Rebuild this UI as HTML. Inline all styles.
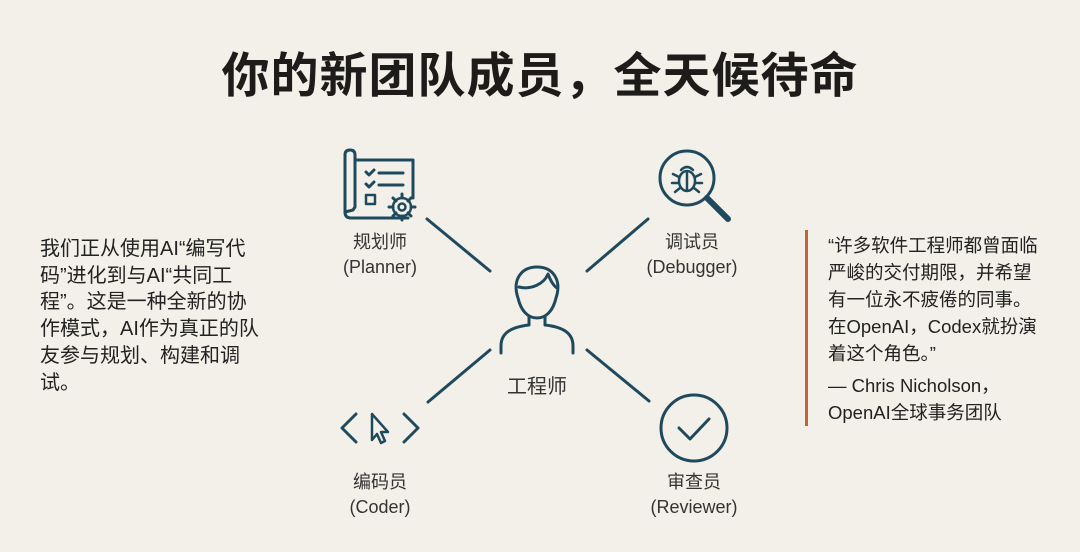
<!DOCTYPE html>
<html><head><meta charset="utf-8"><style>
body{margin:0;width:1080px;height:552px;background:#f3f0e9;overflow:hidden;position:relative;font-family:"Liberation Sans","Noto Sans CJK SC",sans-serif;color:#2b2b2b}
.t{position:absolute;white-space:nowrap}
.title{left:0;width:1080px;text-align:center;top:47px;font-size:48px;font-weight:bold;color:#1e1c1a;line-height:60px;letter-spacing:1px}
.left{left:40px;top:236px;font-size:20px;line-height:26.7px;color:#222}
.quote{left:828px;top:232px;font-size:18.5px;line-height:27px;color:#222}
.lab{font-size:18px;line-height:25px;text-align:center;color:#333;width:160px}
</style></head><body>
<div class="t title">你的新团队成员，全天候待命</div>
<div class="t left">我们正从使用AI“编写代<br>码”进化到与AI“共同工<br>程”。这是一种全新的协<br>作模式，AI作为真正的队<br>友参与规划、构建和调<br>试。</div>
<div style="position:absolute;left:805px;top:230px;width:3px;height:196px;background:#c0643c"></div>
<div class="t quote">“许多软件工程师都曾面临<br>严峻的交付期限，并希望<br>有一位永不疲倦的同事。<br>在OpenAI，Codex就扮演<br>着这个角色。”<br><div style="height:5px"></div>— Chris Nicholson，<br>OpenAI全球事务团队</div>

<div class="t lab" style="left:300px;top:230px">规划师<br>(Planner)</div>
<div class="t lab" style="left:612px;top:230px">调试员<br>(Debugger)</div>
<div class="t lab" style="left:300px;top:470px">编码员<br>(Coder)</div>
<div class="t lab" style="left:614px;top:470px">审查员<br>(Reviewer)</div>
<div class="t" style="left:457px;width:160px;text-align:center;top:370px;font-size:20px;color:#333">工程师</div>

<svg width="1080" height="552" style="position:absolute;left:0;top:0" fill="none" stroke="#1f4a5e" stroke-width="3" stroke-linecap="round" stroke-linejoin="round">
<line x1="427" y1="219" x2="490" y2="271"/>
<line x1="648" y1="219" x2="587" y2="271"/>
<line x1="490" y1="350" x2="428" y2="402"/>
<line x1="587" y1="350" x2="649" y2="401"/>
<!-- person -->
<path d="M518 298 C512 280 521 267 537 267 C553 267 562 280 556 298 C553 311 546 318 537 318 C528 318 521 311 518 298 Z"/>
<path d="M519 287 C531 290 544 284 548 274 C551 282 554 286 557 288"/>
<path d="M529 317 L529 325 C511 327 501 333 501 346 L501 353"/>
<path d="M545 317 L545 325 C563 327 573 333 573 346 L573 353"/>
<!-- planner -->
<path d="M345 155 L345 212 Q345 218 351 218 L408 218"/>
<path d="M345 155 Q345 150 350 150 Q355 150 355 155 L355 207 L353 210 L345 212"/>
<path d="M355 160 L413 160 L413 198"/>
<path d="M366 172 l3 3 l5 -5 M366 184 l3 3 l5 -5"/>
<line x1="379" y1="173" x2="403" y2="173"/><line x1="379" y1="185" x2="403" y2="185"/>
<rect x="366" y="195" width="9" height="9" stroke-width="2.5"/>
<circle cx="402" cy="207" r="9" stroke-width="2.5"/><circle cx="402" cy="207" r="3.5" stroke-width="2.5"/>
<path d="M402 194v4M402 216v4M389 207h4M411 207h4M393 198l3 3M408 213l3 3M411 198l-3 3M393 216l3 -3" stroke-width="3"/>
<!-- debugger -->
<circle cx="687" cy="178" r="27"/>
<line x1="707" y1="198" x2="728" y2="219" stroke-width="6"/>
<ellipse cx="687" cy="181" rx="8" ry="10" stroke-width="2.5"/>
<path d="M681 170 q6 -6 12 0 M687 173v17 M679 177l-6 -3 M695 177l6 -3 M679 183h-7 M695 183h7 M680 188l-5 4 M694 188l5 4" stroke-width="2.5"/>
<!-- coder -->
<path d="M356 414 L342 428 L356 442 M404 414 L418 428 L404 442"/>
<path d="M372 414 L372 440 L377 434 L381 443 L385 441 L381 432 L388 432 Z" stroke-width="2.5"/>
<!-- reviewer -->
<circle cx="694" cy="428" r="33"/>
<path d="M679 428 L690 439 L709 419"/>
</svg>
</body></html>
